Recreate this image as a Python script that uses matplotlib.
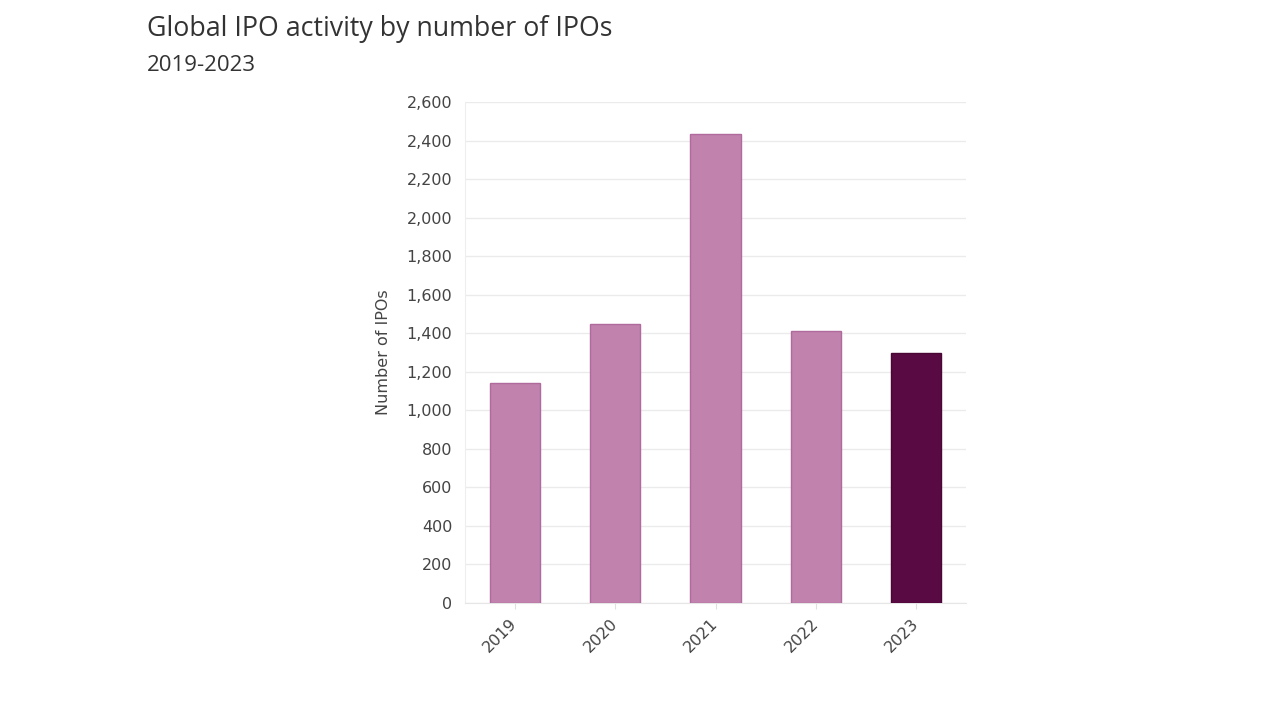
import matplotlib
matplotlib.use("Agg")
import matplotlib.pyplot as plt
from matplotlib.ticker import FuncFormatter, MultipleLocator

plt.rcParams['font.family'] = ['DejaVu Sans']

years = ["2019", "2020", "2021", "2022", "2023"]
ipos = [1141, 1448, 2434, 1411, 1298]
bar_colors = ["#c182ae", "#c182ae", "#c182ae", "#c182ae", "#5a0a42"]
edge_colors = ["#b06a9c", "#b06a9c", "#b06a9c", "#b06a9c", "#4a0634"]

fig = plt.figure(figsize=(12.8, 7.2), dpi=100)
ax = fig.add_axes([0.363, 0.1625, 0.392, 0.6955])

x = range(len(years))
ax.bar(x, ipos, width=0.5, color=bar_colors, edgecolor=edge_colors, linewidth=1, zorder=3)

ax.set_xlim(-0.5, 4.5)
ax.set_ylim(0, 2600)
ax.yaxis.set_major_locator(MultipleLocator(200))
ax.yaxis.set_major_formatter(FuncFormatter(lambda v, p: f"{int(v):,}"))
ax.set_xticks(list(x))
ax.set_xticklabels(years, rotation=45, ha='right', va='center',
                   rotation_mode='anchor', fontsize=11.5, color='#444444')
ax.tick_params(axis='y', labelsize=11.5, labelcolor='#444444', length=0, pad=9)
ax.tick_params(axis='x', length=4, color='#e0e0e0', pad=9)

ax.grid(axis='y', color='#ebebeb', linewidth=1, zorder=0)
for s in ['top', 'right']:
    ax.spines[s].set_visible(False)
ax.spines['left'].set_color('#eeeeee')
ax.spines['bottom'].set_color('#e6e6e6')

ax.set_ylabel("Number of IPOs", fontsize=11.5, color='#444444', labelpad=11)

fig.text(0.115, 0.979, "Global IPO activity by number of IPOs", fontsize=19.3,
         color='#333333', va='top', ha='left', family=['Open Sans', 'DejaVu Sans'])
fig.text(0.115, 0.924, "2019-2023", fontsize=16, color='#333333', va='top', ha='left',
         family=['Open Sans', 'DejaVu Sans'])

fig.savefig("out.png", dpi=100, facecolor='white')
